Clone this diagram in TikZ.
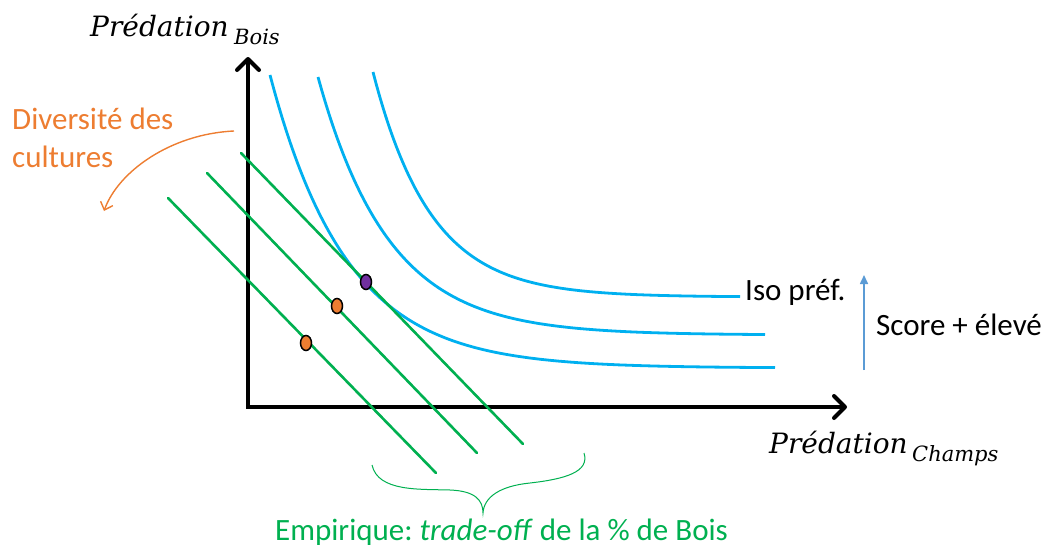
\documentclass[tikz,border=0pt]{standalone}
\usepackage{fontspec}
\setmainfont{Carlito}
\newfontfamily\predfont{DejaVu Serif}
\usetikzlibrary{arrows.meta,shapes.geometric}
\definecolor{cblue}{HTML}{00B0F0}
\definecolor{cgreen}{HTML}{00B050}
\definecolor{corange}{HTML}{ED7D31}
\definecolor{cpurple}{HTML}{7030A0}
\definecolor{csteel}{HTML}{5B9BD5}
\tikzset{
  axisline/.style={line width=4, line join=miter, {Straight Barb[length=11pt,width=22pt,round]}-{Straight Barb[length=11pt,width=22pt,round]}},
  isocurve/.style={cblue, line width=2.8},
  budget/.style={cgreen, line width=2.6, line cap=round},
  dotnode/.style={ellipse, draw=black, line width=1.5, minimum width=11, minimum height=15, inner sep=0},
  lbl/.style={inner sep=0, anchor=base west, font=\fontsize{31}{38}\selectfont},
  predlbl/.style={inner sep=0, anchor=base west, font=\predfont\itshape\fontsize{28}{30}\selectfont},
  sublbl/.style={inner sep=0, anchor=base west, font=\predfont\itshape\fontsize{21}{22}\selectfont}
}
\begin{document}
\frenchspacing
\begin{tikzpicture}[x=1pt,y=-1pt]
\useasboundingbox (0,0) rectangle (1053,552);
% axes
\coordinate (O) at (248,407);
\coordinate (Ytip) at (248,57);
\coordinate (Xtip) at (847,407);
\draw[axisline] (Ytip) -- (O) -- (Xtip);
% axis labels
\node[predlbl] (yl) at (90,36) {Prédation};
\node[sublbl] (ys) at (234,44) {Bois};
\node[predlbl] (xl) at (769,453) {Prédation};
\node[sublbl] (xs) at (912,461) {Champs};
% iso preference curves
\draw[isocurve] plot[smooth, domain=0:505, samples=120] ({270+\x}, {368-293*exp(-\x/77)});
\draw[isocurve] plot[smooth, domain=0:447, samples=120] ({318+\x}, {335-258*exp(-\x/71)});
\draw[isocurve] plot[smooth, domain=0:367, samples=120] ({373+\x}, {297-225*exp(-\x/58)});
% budget lines
\coordinate (g1a) at (241,153); \coordinate (g1b) at (523,444);
\coordinate (g2a) at (207,173); \coordinate (g2b) at (477,453);
\coordinate (g3a) at (168,198); \coordinate (g3b) at (436,473);
\draw[budget] (g1a) -- (g1b);
\draw[budget] (g2a) -- (g2b);
\draw[budget] (g3a) -- (g3b);
% dots
\node[dotnode, fill=cpurple] (dp) at (366,282) {};
\node[dotnode, fill=corange] (d1) at (337,306) {};
\node[dotnode, fill=corange] (d2) at (306,343) {};
% labels right
\node[lbl] (iso) at (745,300) {Iso préf.};
\coordinate (sA) at (864,370);
\coordinate (sB) at (864,275);
\draw[csteel, line width=1.6, -{Triangle[length=9pt,width=8pt]}] (sA) -- (sB);
\node[lbl] (score) at (876,335) {Score + élevé};
% diversity
\node[lbl, text=corange, align=left, anchor=north west] (div) at (12,108) {Diversité des\\cultures};
\coordinate (oA) at (234,131);
\coordinate (oB) at (104,211);
\draw[corange, line width=1.4, -{Straight Barb[length=7pt,width=13pt]}] (oA) .. controls (170,134) and (118,172) .. (oB);
% brace
\draw[cgreen, line width=1] (372,465) .. controls (378,492) and (420,489) .. (450,490)
  .. controls (475,491) and (483,500) .. (483,513)
  .. controls (484,497) and (500,486) .. (530,483)
  .. controls (565,479) and (590,472) .. (584,453);
\node[lbl, text=cgreen] (emp) at (275,540) {Empirique: \textit{trade-off} de la \% de Bois};
\end{tikzpicture}
\end{document}
